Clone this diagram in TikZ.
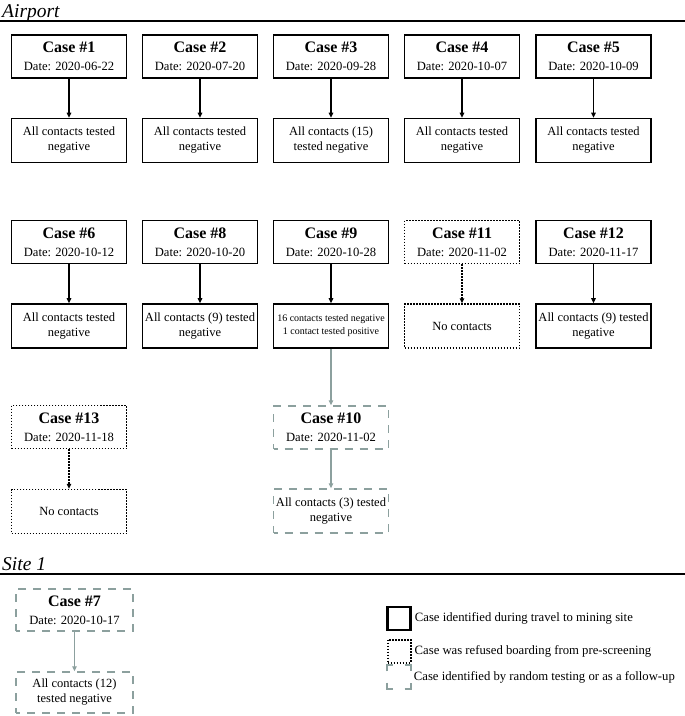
\documentclass[tikz,border=0pt]{standalone}
\usepackage{fontspec}
\setmainfont{Liberation Serif}
\usetikzlibrary{arrows.meta}

\definecolor{followgray}{RGB}{140,160,158}

\newcommand{\casehead}[2]{{\fontsize{16}{18}\selectfont\bfseries Case \##1}\\Date: #2}

\tikzset{
	casebox/.style={draw, line width=1.6pt, minimum width=115pt, minimum height=43pt, inner sep=1pt, align=center, font=\fontsize{12.6}{18}\selectfont},
	outbox/.style={casebox, minimum height=44pt, font=\fontsize{12.5}{15}\selectfont},
	refused/.style={line width=1.5pt, dash pattern=on 1.5pt off 1.5pt},
	follow/.style={draw=followgray, line width=1.3pt, dash pattern=on 8pt off 7pt, dash phase=4pt},
	link/.style={-{Triangle[length=5pt,width=4.5pt]}, line width=1.2pt},
	section/.style={anchor=base west, inner sep=0pt, font=\fontsize{19.5}{22}\selectfont\itshape},
	legbox/.style={minimum size=23pt, inner sep=0pt},
	legtext/.style={anchor=west, inner sep=3pt, font=\fontsize{12.7}{15}\selectfont},
	corner/.style={draw=followgray, line width=2pt}
}

\begin{document}
\begin{tikzpicture}[x=1pt, y=-1pt]
	\useasboundingbox (0,0) rectangle (685,716);

	% Airport
	\node[section] (airport) at (2,17) {Airport};
	\draw[line width=1.2pt] (0,21) -- (685,21);

	\node[casebox] (case1) at (69,56.5) {\casehead{1}{2020-06-22}};
	\node[casebox] (case2) at (200,56.5) {\casehead{2}{2020-07-20}};
	\node[casebox] (case3) at (331,56.5) {\casehead{3}{2020-09-28}};
	\node[casebox] (case4) at (462,56.5) {\casehead{4}{2020-10-07}};
	\node[casebox] (case5) at (593.5,56.5) {\casehead{5}{2020-10-09}};

	\node[outbox] (out1) at (69,140.5) {All contacts tested\\negative};
	\node[outbox] (out2) at (200,140.5) {All contacts tested\\negative};
	\node[outbox] (out3) at (331,140.5) {All contacts (15)\\tested negative};
	\node[outbox] (out4) at (462,140.5) {All contacts tested\\negative};
	\node[outbox] (out5) at (593.5,140.5) {All contacts tested\\negative};

	\draw[link] (case1) -- (out1);
	\draw[link] (case2) -- (out2);
	\draw[link] (case3) -- (out3);
	\draw[link] (case4) -- (out4);
	\draw[link] (case5) -- (out5);

	\node[casebox] (case6) at (69,242) {\casehead{6}{2020-10-12}};
	\node[casebox] (case8) at (200,242) {\casehead{8}{2020-10-20}};
	\node[casebox] (case9) at (331,242) {\casehead{9}{2020-10-28}};
	\node[casebox, refused] (case11) at (462,242) {\casehead{11}{2020-11-02}};
	\node[casebox] (case12) at (593.5,242) {\casehead{12}{2020-11-17}};

	\node[outbox] (out6) at (69,326) {All contacts tested\\negative};
	\node[outbox] (out8) at (200,326) {All contacts (9) tested\\negative};
	\node[outbox, font=\fontsize{10}{13}\selectfont] (out9) at (331,326) {16 contacts tested negative\\1 contact tested positive};
	\node[outbox, refused] (out11) at (462,326) {No contacts};
	\node[outbox] (out12) at (593.5,326) {All contacts (9) tested\\negative};

	\draw[link] (case6) -- (out6);
	\draw[link] (case8) -- (out8);
	\draw[link] (case9) -- (out9);
	\draw[link, refused] (case11) -- (out11);
	\draw[link] (case12) -- (out12);

	\node[casebox, refused] (case13) at (69,427) {\casehead{13}{2020-11-18}};
	\node[outbox, refused] (out13) at (69,511.5) {No contacts};
	\draw[link, refused] (case13) -- (out13);

	\node[casebox, follow] (case10) at (331,427.5) {\casehead{10}{2020-11-02}};
	\node[outbox, follow] (out10) at (331,511) {All contacts (3) tested\\negative};
	\draw[link, followgray] (out9) -- (case10);
	\draw[link, followgray] (case10) -- (out10);

	% Site 1
	\node[section] (site) at (2,570) {Site 1};
	\draw[line width=1.2pt] (0,574) -- (685,574);

	\node[casebox, follow, minimum width=117pt, minimum height=42pt] (case7) at (74.5,610) {\casehead{7}{2020-10-17}};
	\node[outbox, follow, minimum width=117pt, minimum height=41pt] (out7) at (74.5,692.5) {All contacts (12)\\tested negative};
	\draw[link, followgray] (case7) -- (out7);

	% legend
	\node[legbox, draw, line width=2.4pt] (legA) at (399,618.5) {};
	\node[legbox, draw, refused, line width=2pt] (legB) at (399,651) {};
	\node[legbox] (legC) at (399,677) {};
	\draw[corner] (legC.north west) ++(0,6) -- (legC.north west) -- ++(6,0);
	\draw[corner] (legC.north east) ++(-6,0) -- (legC.north east) -- ++(0,6);
	\draw[corner] (legC.south west) ++(0,-6) -- (legC.south west) -- ++(6,0);
	\draw[corner] (legC.south east) ++(-6,0) -- (legC.south east) -- ++(0,-6);
	\node[legtext] (txtA) at (legA.east) {Case identified during travel to mining site};
	\node[legtext] (txtB) at (legB.east) {Case was refused boarding from pre-screening};
	\node[legtext] (txtC) at (legC.east) {Case identified by random testing or as a follow-up};
\end{tikzpicture}
\end{document}
